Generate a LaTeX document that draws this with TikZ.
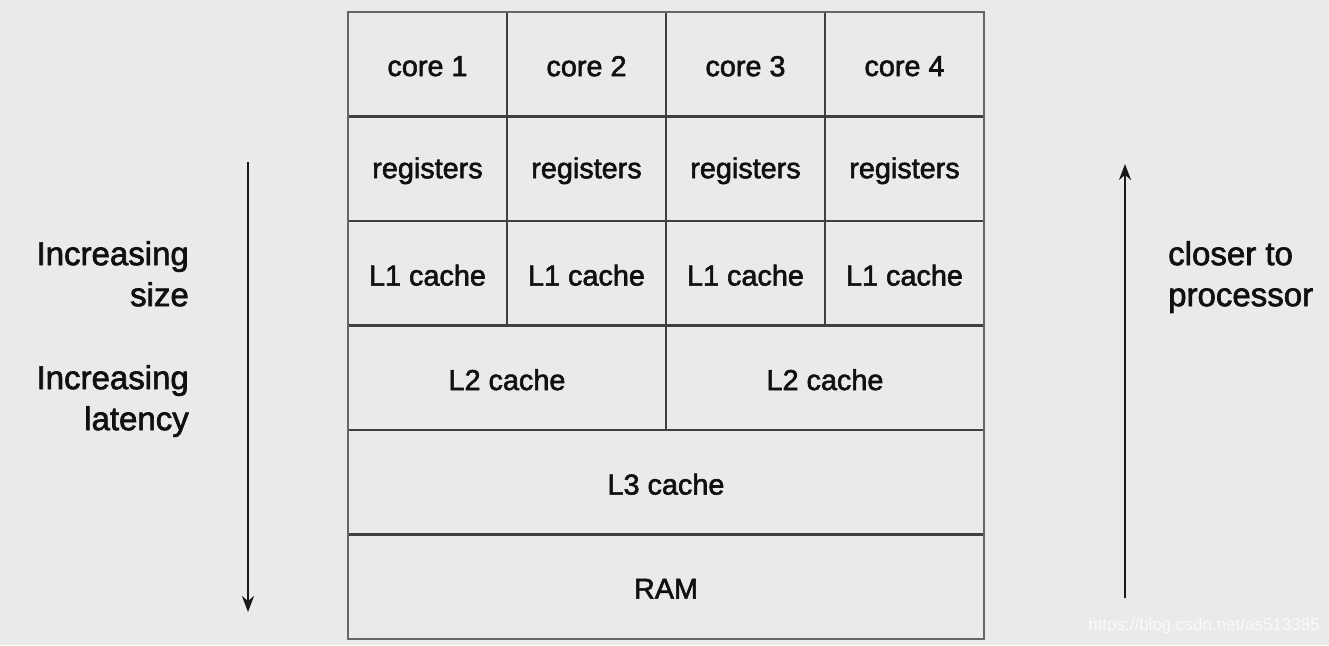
\documentclass[tikz,border=0pt]{standalone}
\usepackage{fontspec}
\setmainfont{Liberation Sans}
\newfontfamily\medfont{Liberation Sans}[FakeBold=2]
\usetikzlibrary{arrows.meta}
\definecolor{bg}{HTML}{EBEAEB}
\definecolor{gridc}{HTML}{404040}
\definecolor{txt}{HTML}{101010}
\tikzset{
  cell/.style={draw=gridc, line width=2.5pt, inner sep=0pt, minimum height=104.5pt},
  narrow/.style={cell, minimum width=159pt},
  half/.style={cell, minimum width=318pt},
  full/.style={cell, minimum width=636pt},
  lbl/.style={yshift=-2pt, inner sep=0pt, font=\medfont\fontsize{28.8}{31}\selectfont, text=txt},
  side/.style={font=\medfont\fontsize{33}{41}\selectfont, text=txt, inner sep=0pt},
  axis/.style={line width=2.4pt, -{Stealth[length=16pt,width=12pt]}, color=black!90}
}
\begin{document}
\begin{tikzpicture}[x=1pt,y=-1pt]
\fill[bg] (0,0) rectangle (1329,645);
\useasboundingbox (0,0) rectangle (1329,645);
\foreach \i/\cx in {1/427.5,2/586.5,3/745.5,4/904.5}{
  \node[narrow] (core\i) at (\cx,64.25) {};
  \node[lbl] at (core\i) {core \i};
  \node[narrow] (reg\i) at (\cx,168.75) {};
  \node[lbl] at (reg\i) {registers};
  \node[narrow] (lone\i) at (\cx,273.25) {};
  \node[lbl] at (lone\i) {L1 cache};
}
\node[half] (ltwoa) at (507,377.75) {};
\node[lbl] at (ltwoa) {L2 cache};
\node[half] (ltwob) at (825,377.75) {};
\node[lbl] at (ltwob) {L2 cache};
\node[full] (lthree) at (666,482.25) {};
\node[lbl] at (lthree) {L3 cache};
\node[full] (ram) at (666,586.75) {};
\node[lbl] at (ram) {RAM};
\draw[draw=gray!80!black, line width=2.8pt] (348,12) rectangle (984,639);
\coordinate (ltop) at (248,162);
\coordinate (lbot) at (248,612);
\coordinate (rbot) at (1125,598);
\coordinate (rtop) at (1125,164);
\draw[axis] (ltop) -- (lbot);
\draw[axis] (rbot) -- (rtop);
\node[side, anchor=north east, align=right] (size) at (189,241) {Increasing\\size};
\node[side, anchor=north east, align=right] (lat) at (189,365) {Increasing\\latency};
\node[side, anchor=north west, align=left] (closer) at (1168,241) {closer to\\processor};
\node[anchor=east, inner sep=0pt, text=white, opacity=0.75, font=\fontsize{17}{20}\selectfont] (wm) at (1320,626) {https://blog.csdn.net/as513385};
\end{tikzpicture}
\end{document}
